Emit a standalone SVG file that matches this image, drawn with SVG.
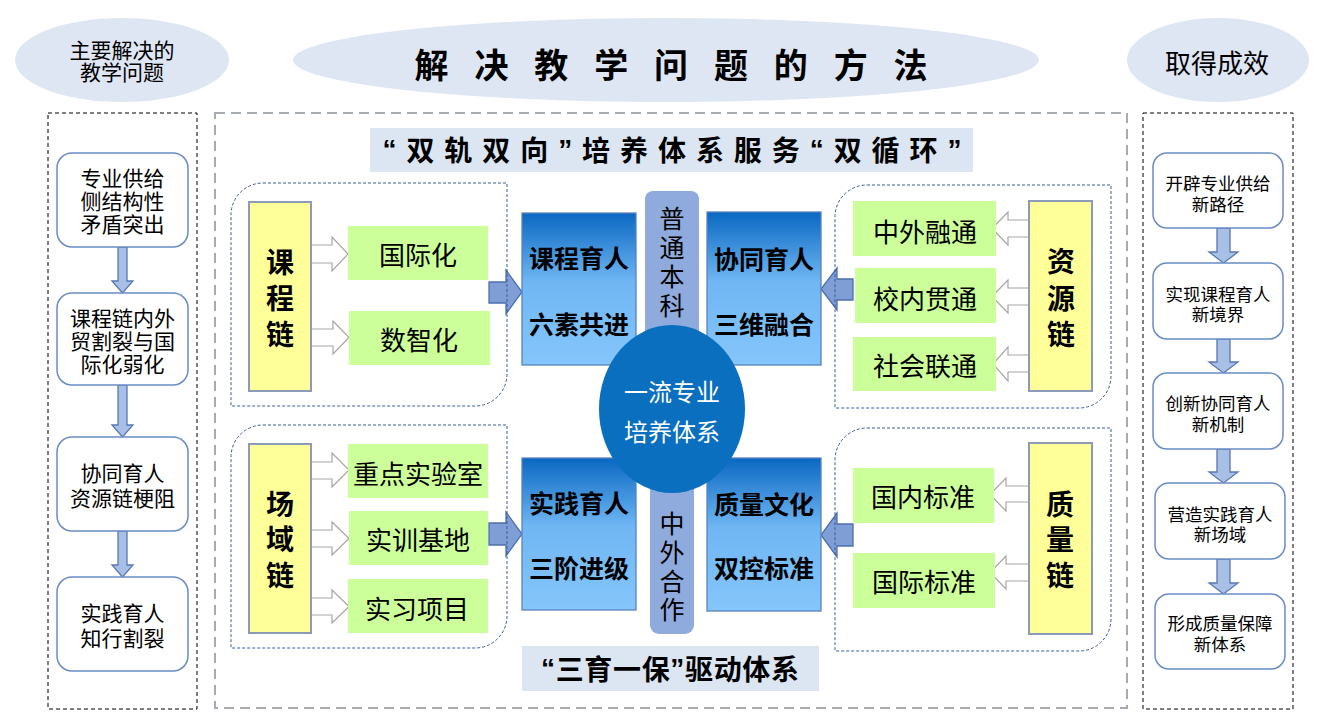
<svg xmlns="http://www.w3.org/2000/svg" width="1328" height="727" viewBox="0 0 1328 727">
<defs>
<linearGradient id="bg" x1="0" y1="0" x2="0" y2="1">
<stop offset="0" stop-color="#0a68c2"/>
<stop offset="0.45" stop-color="#6fb6f3"/>
<stop offset="1" stop-color="#85c6fb"/>
</linearGradient>
<style>
text{font-family:"Noto Sans CJK SC","Noto Sans",sans-serif;dominant-baseline:central;text-anchor:middle;fill:#000}
.q{font-family:"Liberation Sans","Noto Sans CJK SC",sans-serif}
.ell{fill:#dfe6f3}
.bar{fill:#dce6f2}
.outer{fill:none;stroke:#000;stroke-width:1;stroke-dasharray:4 3}
.main{fill:none;stroke:#a6abb3;stroke-width:2;stroke-dasharray:10 6}
.grp{fill:none;stroke:#3a5a9a;stroke-width:1;stroke-dasharray:3 2}
.node{fill:#fff;stroke:#6a8cc6;stroke-width:1.5}
.darr{fill:#a9c0e6;stroke:#5878b0;stroke-width:1.3}
.yel{fill:#ffff99;stroke:#8c9ab5;stroke-width:2}
.grn{fill:#ccff99}
.hol{fill:#fff;stroke:#a6a6a6;stroke-width:1.2}
.barr{fill:#7f9ed6;stroke:#4e6fab;stroke-width:1.3}
.blue{fill:url(#bg);stroke:#5a82bf;stroke-width:1.3}
.vbar{fill:#8faadc}
.t21{font-size:21px}
.t17{font-size:17.5px}
.tg{font-size:26px}
.ty{font-size:28px;font-weight:bold}
.tb{font-size:25px;font-weight:bold}
.tv{font-size:25px}
</style>
</defs>

<g id="header-left">
<ellipse class="ell" cx="122" cy="60" rx="107" ry="42"/>
<text class="t21" x="122" y="49">主要解决的<tspan x="122" dy="22">教学问题</tspan></text>
</g>
<g id="header-title">
<ellipse class="ell" cx="666" cy="60" rx="373" ry="42"/>
<text x="671" y="63" style="font-size:34px;font-weight:bold" textLength="513" lengthAdjust="spacing">解决教学问题的方法</text>
</g>
<g id="header-right">
<ellipse class="ell" cx="1218" cy="60" rx="91" ry="42"/>
<text x="1217" y="61" style="font-size:26px">取得成效</text>
</g>

<rect class="outer" x="48" y="113" width="149" height="596"/>
<rect class="outer" x="1143" y="113" width="150" height="596"/>
<rect class="main" x="215" y="113" width="912" height="595"/>

<g id="connectors">
<path class="darr" d="M118,247 H127 V281 H133 L122.5,293 L112,281 H118 Z"/>
<path class="darr" d="M118,385 H127 V425 H133 L122.5,437 L112,425 H118 Z"/>
<path class="darr" d="M118,531 H127 V565 H133 L122.5,577 L112,565 H118 Z"/>
<path class="darr" d="M1217,228 H1230 V252 H1238 L1223.5,263 L1209,252 H1217 Z"/>
<path class="darr" d="M1217,339 H1230 V362 H1238 L1223.5,373 L1209,362 H1217 Z"/>
<path class="darr" d="M1217,449 H1230 V472 H1238 L1223.5,483 L1209,472 H1217 Z"/>
<path class="darr" d="M1217,559 H1230 V583 H1238 L1223.5,594 L1209,583 H1217 Z"/>
<path class="hol" d="M311,245 H332 V237 L348,254 L332,271 V263 H311 Z"/>
<path class="hol" d="M311,329 H333 V321 L349,337.5 L333,354 V346 H311 Z"/>
<path class="hol" d="M311,462 H332 V453 L349,470 L332,487 V479 H311 Z"/>
<path class="hol" d="M311,530 H332 V522 L349,538.5 L332,555 V547 H311 Z"/>
<path class="hol" d="M311,598 H332 V590 L349,606.5 L332,623 V615 H311 Z"/>
<path class="hol" d="M1029,220 H1008 V212 L992,228.5 L1008,245 V237 H1029 Z"/>
<path class="hol" d="M1029,288 H1008 V280 L992,296.5 L1008,313 V305 H1029 Z"/>
<path class="hol" d="M1029,355 H1008 V347 L993,364 L1008,381 V372 H1029 Z"/>
<path class="hol" d="M1029,486 H1006 V478 L990,494.5 L1006,511 V502 H1029 Z"/>
<path class="hol" d="M1029,564 H1006 V556 L990,572.5 L1006,589 V581 H1029 Z"/>
<path class="barr" d="M489,282 H506 V270 L522,292 L506,314 V303 H489 Z"/>
<path class="barr" d="M489,523 H506 V512 L522,534 L506,556 V545 H489 Z"/>
<path class="barr" d="M853,279 H837 V268 L821,289 L837,310 V300 H853 Z"/>
<path class="barr" d="M853,524 H837 V513 L821,535 L837,557 V546 H853 Z"/>
</g>

<g id="p1"><rect class="node" x="57" y="153" width="131" height="94" rx="15"/>
<text class="t21" x="122.5" y="177">专业供给<tspan x="122.5" dy="23">侧结构性</tspan><tspan x="122.5" dy="23">矛盾突出</tspan></text></g>
<g id="p2"><rect class="node" x="57" y="293" width="131" height="92" rx="15"/>
<text class="t21" x="122.5" y="317">课程链内外<tspan x="122.5" dy="23">贸割裂与国</tspan><tspan x="122.5" dy="23">际化弱化</tspan></text></g>
<g id="p3"><rect class="node" x="57" y="437" width="131" height="94" rx="15"/>
<text class="t21" x="122.5" y="472">协同育人<tspan x="122.5" dy="25">资源链梗阻</tspan></text></g>
<g id="p4"><rect class="node" x="57" y="577" width="131" height="94" rx="15"/>
<text class="t21" x="122.5" y="612">实践育人<tspan x="122.5" dy="25">知行割裂</tspan></text></g>

<g id="r1"><rect class="node" x="1153" y="153" width="130" height="75" rx="14"/>
<text class="t17" x="1218" y="182">开辟专业供给<tspan x="1218" dy="21">新路径</tspan></text></g>
<g id="r2"><rect class="node" x="1153" y="263" width="130" height="76" rx="14"/>
<text class="t17" x="1218" y="293">实现课程育人<tspan x="1218" dy="20">新境界</tspan></text></g>
<g id="r3"><rect class="node" x="1153" y="373" width="130" height="76" rx="14"/>
<text class="t17" x="1218" y="402">创新协同育人<tspan x="1218" dy="21">新机制</tspan></text></g>
<g id="r4"><rect class="node" x="1155" y="483" width="130" height="76" rx="14"/>
<text class="t17" x="1220" y="513">营造实践育人<tspan x="1220" dy="20">新场域</tspan></text></g>
<g id="r5"><rect class="node" x="1155" y="594" width="130" height="75" rx="14"/>
<text class="t17" x="1220" y="622">形成质量保障<tspan x="1220" dy="21">新体系</tspan></text></g>

<g id="title-bar"><rect class="bar" x="370" y="128" width="603" height="44"/>
<text x="672" y="149" style="font-size:28px;font-weight:bold" textLength="579" lengthAdjust="spacing"><tspan class="q">“</tspan>双轨双向<tspan class="q">”</tspan>培养体系服务<tspan class="q">“</tspan>双循环<tspan class="q">”</tspan></text></g>
<g id="bottom-bar"><rect class="bar" x="522" y="646" width="297" height="45"/>
<text x="670" y="668" style="font-size:28px;font-weight:bold" textLength="258" lengthAdjust="spacing"><tspan class="q">“</tspan>三育一保<tspan class="q">”</tspan>驱动体系</text></g>

<g id="grp-kecheng">
<path class="grp" d="M263,183 H507 V374 A32,32 0 0 1 475,406 H231 V215 A32,32 0 0 1 263,183 Z"/>
<rect class="yel" x="249" y="202" width="62" height="189"/>
<text class="ty" x="280" y="261">课<tspan x="280" dy="36">程</tspan><tspan x="280" dy="36">链</tspan></text>
<rect class="grn" x="348" y="226" width="140" height="54"/><text class="tg" x="418" y="253">国际化</text>
<rect class="grn" x="349" y="311" width="141" height="54"/><text class="tg" x="419" y="338">数智化</text>
</g>
<g id="grp-ziyuan">
<path class="grp" d="M867,185 H1111 V376 A32,32 0 0 1 1079,408 H835 V217 A32,32 0 0 1 867,185 Z"/>
<rect class="yel" x="1029" y="201" width="63" height="190"/>
<text class="ty" x="1061" y="260">资<tspan x="1061" dy="37">源</tspan><tspan x="1061" dy="36">链</tspan></text>
<rect class="grn" x="853" y="201" width="143" height="55"/><text class="tg" x="925" y="230">中外融通</text>
<rect class="grn" x="855" y="268" width="141" height="55"/><text class="tg" x="925" y="297">校内贯通</text>
<rect class="grn" x="853" y="337" width="143" height="54"/><text class="tg" x="925" y="364">社会联通</text>
</g>
<g id="grp-changyu">
<path class="grp" d="M263,425 H507 V616 A32,32 0 0 1 475,648 H231 V457 A32,32 0 0 1 263,425 Z"/>
<rect class="yel" x="249" y="444" width="62" height="189"/>
<text class="ty" x="280" y="503">场<tspan x="280" dy="35">域</tspan><tspan x="280" dy="36">链</tspan></text>
<rect class="grn" x="348" y="444" width="140" height="54"/><text class="tg" x="418" y="472">重点实验室</text>
<rect class="grn" x="349" y="511" width="139" height="54"/><text class="tg" x="418" y="538">实训基地</text>
<rect class="grn" x="348" y="579" width="140" height="54"/><text class="tg" x="417" y="607">实习项目</text>
</g>
<g id="grp-zhiliang">
<path class="grp" d="M867,428 H1111 V619 A32,32 0 0 1 1079,651 H835 V460 A32,32 0 0 1 867,428 Z"/>
<rect class="yel" x="1029" y="443" width="63" height="191"/>
<text class="ty" x="1060" y="503">质<tspan x="1060" dy="35">量</tspan><tspan x="1060" dy="36">链</tspan></text>
<rect class="grn" x="853" y="468" width="141" height="55"/><text class="tg" x="923" y="495">国内标准</text>
<rect class="grn" x="853" y="553" width="142" height="55"/><text class="tg" x="924" y="580">国际标准</text>
</g>

<g id="bar-top">
<path class="vbar" d="M645,360 V199 A8,8 0 0 1 653,191 H691 A8,8 0 0 1 699,199 V360 Z"/>
<text class="tv" x="672" y="217">普<tspan x="672" dy="29">通</tspan><tspan x="672" dy="29">本</tspan><tspan x="672" dy="29">科</tspan></text>
</g>
<g id="bar-bottom">
<path class="vbar" d="M650,460 V625 A9,9 0 0 0 659,634 H685 A9,9 0 0 0 694,625 V460 Z"/>
<text class="tv" x="672" y="522">中<tspan x="672" dy="29">外</tspan><tspan x="672" dy="29">合</tspan><tspan x="672" dy="28">作</tspan></text>
</g>

<g id="box-kecheng"><rect class="blue" x="522" y="213" width="114" height="152"/>
<text class="tb" x="579" y="257">课程育人</text><text class="tb" x="579" y="323">六素共进</text></g>
<g id="box-xietong"><rect class="blue" x="707" y="212" width="114" height="153"/>
<text class="tb" x="764" y="258">协同育人</text><text class="tb" x="764" y="323">三维融合</text></g>
<g id="box-shijian"><rect class="blue" x="522" y="458" width="114" height="152"/>
<text class="tb" x="579" y="502">实践育人</text><text class="tb" x="579" y="567">三阶进级</text></g>
<g id="box-zhiliang"><rect class="blue" x="707" y="458" width="114" height="153"/>
<text class="tb" x="764" y="503">质量文化</text><text class="tb" x="764" y="567">双控标准</text></g>

<g id="center">
<ellipse cx="672" cy="409" rx="73" ry="84" fill="#0a6fbf"/>
<text x="672" y="390" style="font-size:24px;fill:#fff">一流专业<tspan x="672" dy="40">培养体系</tspan></text>
</g>
</svg>
